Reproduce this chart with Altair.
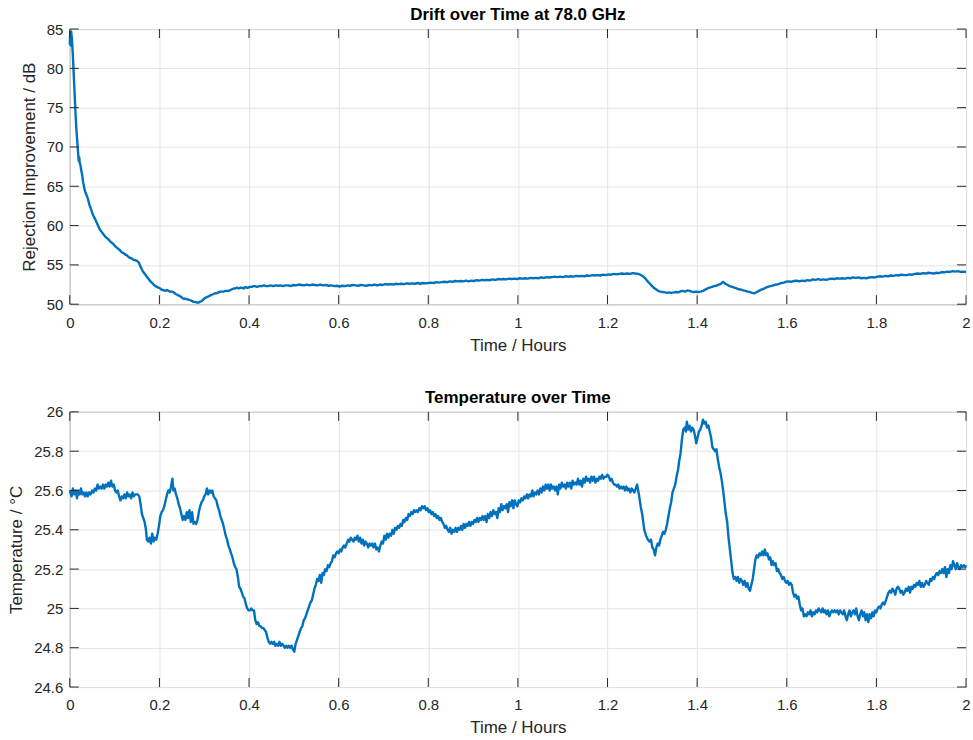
import altair as alt
import pandas as pd

# (hours, rejection improvement dB)
drift_readings = [
    (0.000, 83.0), (0.001, 84.6), (0.002, 82.9), (0.003, 84.7), (0.004, 84.2), (0.005, 83.6),
    (0.007, 81.5), (0.009, 79.0), (0.011, 76.5), (0.013, 74.0), (0.015, 72.0), (0.017, 70.5),
    (0.019, 68.9), (0.020, 68.2), (0.021, 68.7), (0.022, 68.1), (0.024, 67.6), (0.026, 66.9),
    (0.028, 66.3), (0.030, 65.4), (0.031, 65.2), (0.033, 64.6), (0.035, 64.2), (0.038, 63.8),
    (0.041, 63.3), (0.044, 62.6), (0.046, 62.3), (0.048, 62.0), (0.050, 61.6), (0.053, 61.2),
    (0.056, 60.9), (0.060, 60.4), (0.063, 60.0), (0.067, 59.5), (0.071, 59.2), (0.075, 58.9),
    (0.079, 58.6), (0.083, 58.4), (0.087, 58.2), (0.090, 58.0), (0.094, 57.8), (0.098, 57.6),
    (0.101, 57.4), (0.105, 57.2), (0.109, 57.0), (0.113, 56.8), (0.116, 56.6), (0.120, 56.5),
    (0.124, 56.3), (0.128, 56.2), (0.131, 56.0), (0.135, 55.9), (0.139, 55.8), (0.143, 55.6),
    (0.146, 55.6), (0.150, 55.5), (0.154, 55.3), (0.157, 54.9), (0.161, 54.4), (0.164, 54.1),
    (0.168, 53.8), (0.172, 53.5), (0.176, 53.2), (0.180, 52.9), (0.184, 52.7), (0.187, 52.5),
    (0.191, 52.3), (0.195, 52.2), (0.198, 52.1), (0.202, 52.0), (0.206, 51.8), (0.209, 51.8),
    (0.213, 51.7), (0.217, 51.8), (0.220, 51.7), (0.224, 51.6), (0.228, 51.6), (0.232, 51.5),
    (0.236, 51.3), (0.240, 51.2), (0.243, 51.1), (0.247, 51.0), (0.251, 50.8), (0.254, 50.7),
    (0.258, 50.7), (0.262, 50.6), (0.265, 50.6), (0.269, 50.5), (0.273, 50.4), (0.276, 50.3),
    (0.280, 50.3), (0.284, 50.2), (0.287, 50.2), (0.290, 50.3), (0.294, 50.4), (0.298, 50.6),
    (0.302, 50.8), (0.306, 50.9), (0.310, 51.0), (0.313, 51.1), (0.317, 51.2), (0.321, 51.3),
    (0.324, 51.4), (0.328, 51.4), (0.332, 51.5), (0.336, 51.6), (0.339, 51.6), (0.343, 51.6),
    (0.347, 51.7), (0.351, 51.7), (0.354, 51.7), (0.358, 51.8), (0.362, 51.9), (0.366, 52.0),
    (0.369, 52.0), (0.373, 52.1), (0.377, 52.0), (0.381, 52.1), (0.384, 52.1), (0.388, 52.0),
    (0.392, 52.2), (0.395, 52.1), (0.398, 52.1), (0.402, 52.2), (0.406, 52.2), (0.410, 52.3),
    (0.413, 52.3), (0.418, 52.2), (0.423, 52.3), (0.428, 52.3), (0.433, 52.4), (0.438, 52.3),
    (0.443, 52.3), (0.448, 52.4), (0.454, 52.3), (0.460, 52.4), (0.465, 52.35), (0.470, 52.4),
    (0.476, 52.3), (0.481, 52.4), (0.487, 52.4), (0.493, 52.3), (0.499, 52.45), (0.505, 52.4),
    (0.511, 52.5), (0.517, 52.45), (0.523, 52.4), (0.529, 52.5), (0.535, 52.4), (0.541, 52.5),
    (0.547, 52.45), (0.553, 52.4), (0.559, 52.5), (0.565, 52.4), (0.571, 52.45), (0.577, 52.35),
    (0.584, 52.4), (0.590, 52.3), (0.596, 52.35), (0.602, 52.25), (0.608, 52.35), (0.614, 52.3),
    (0.620, 52.4), (0.626, 52.35), (0.632, 52.45), (0.638, 52.4), (0.644, 52.35), (0.650, 52.45),
    (0.656, 52.4), (0.662, 52.35), (0.668, 52.45), (0.674, 52.4), (0.680, 52.5), (0.686, 52.4),
    (0.692, 52.5), (0.698, 52.45), (0.704, 52.55), (0.710, 52.5), (0.716, 52.55), (0.722, 52.5),
    (0.728, 52.6), (0.734, 52.55), (0.740, 52.6), (0.746, 52.55), (0.752, 52.65), (0.758, 52.6),
    (0.764, 52.65), (0.770, 52.6), (0.776, 52.7), (0.782, 52.6), (0.788, 52.7), (0.794, 52.65),
    (0.800, 52.7), (0.806, 52.75), (0.812, 52.7), (0.818, 52.8), (0.824, 52.75), (0.830, 52.8),
    (0.836, 52.85), (0.842, 52.8), (0.848, 52.9), (0.854, 52.85), (0.860, 52.95), (0.866, 52.9),
    (0.872, 52.95), (0.878, 52.9), (0.884, 53.0), (0.890, 52.9), (0.896, 53.0), (0.902, 52.95),
    (0.908, 53.05), (0.914, 53.0), (0.920, 53.1), (0.926, 53.05), (0.932, 53.1), (0.938, 53.05),
    (0.944, 53.15), (0.950, 53.1), (0.956, 53.2), (0.962, 53.15), (0.968, 53.2), (0.974, 53.15),
    (0.980, 53.25), (0.986, 53.2), (0.992, 53.25), (0.998, 53.2), (1.004, 53.3), (1.010, 53.25),
    (1.016, 53.3), (1.022, 53.25), (1.028, 53.35), (1.034, 53.3), (1.040, 53.35), (1.046, 53.3),
    (1.052, 53.4), (1.058, 53.35), (1.064, 53.45), (1.070, 53.4), (1.076, 53.45), (1.082, 53.5),
    (1.088, 53.45), (1.094, 53.5), (1.100, 53.45), (1.106, 53.55), (1.112, 53.5), (1.118, 53.55),
    (1.124, 53.5), (1.130, 53.6), (1.136, 53.55), (1.142, 53.6), (1.148, 53.55), (1.154, 53.65),
    (1.160, 53.6), (1.166, 53.7), (1.172, 53.65), (1.178, 53.7), (1.184, 53.65), (1.190, 53.75),
    (1.196, 53.7), (1.202, 53.8), (1.208, 53.75), (1.214, 53.85), (1.220, 53.8), (1.226, 53.85),
    (1.232, 53.9), (1.238, 53.85), (1.244, 53.9), (1.250, 53.85), (1.256, 53.95), (1.262, 53.9),
    (1.268, 53.85), (1.273, 53.75), (1.278, 53.6), (1.283, 53.35), (1.288, 53.0), (1.293, 52.7),
    (1.298, 52.4), (1.303, 52.1), (1.308, 51.9), (1.313, 51.7), (1.318, 51.6), (1.323, 51.55),
    (1.328, 51.5), (1.333, 51.45), (1.338, 51.5), (1.343, 51.45), (1.348, 51.5), (1.353, 51.55),
    (1.358, 51.5), (1.363, 51.65), (1.368, 51.7), (1.373, 51.6), (1.378, 51.75), (1.383, 51.7),
    (1.388, 51.6), (1.393, 51.55), (1.398, 51.6), (1.403, 51.55), (1.408, 51.6), (1.413, 51.7),
    (1.418, 51.85), (1.423, 52.0), (1.428, 52.1), (1.433, 52.2), (1.438, 52.3), (1.443, 52.35),
    (1.448, 52.5), (1.453, 52.6), (1.458, 52.85), (1.463, 52.6), (1.468, 52.45), (1.473, 52.3),
    (1.478, 52.2), (1.483, 52.1), (1.488, 52.0), (1.493, 51.9), (1.498, 51.85), (1.503, 51.75),
    (1.508, 51.7), (1.513, 51.6), (1.518, 51.55), (1.523, 51.45), (1.528, 51.4), (1.533, 51.55),
    (1.538, 51.7), (1.543, 51.85), (1.548, 51.95), (1.553, 52.1), (1.558, 52.2), (1.563, 52.3),
    (1.568, 52.35), (1.573, 52.45), (1.578, 52.5), (1.583, 52.6), (1.588, 52.7), (1.593, 52.75),
    (1.598, 52.85), (1.604, 52.9), (1.610, 52.85), (1.616, 52.95), (1.622, 53.0), (1.628, 52.9),
    (1.634, 53.0), (1.640, 52.95), (1.646, 53.05), (1.652, 53.0), (1.658, 53.15), (1.664, 53.1),
    (1.670, 53.2), (1.676, 53.1), (1.682, 53.15), (1.688, 53.1), (1.694, 53.2), (1.700, 53.25),
    (1.706, 53.2), (1.712, 53.3), (1.718, 53.25), (1.724, 53.3), (1.730, 53.25), (1.736, 53.35),
    (1.742, 53.3), (1.748, 53.4), (1.754, 53.35), (1.760, 53.4), (1.766, 53.3), (1.772, 53.35),
    (1.778, 53.3), (1.784, 53.4), (1.790, 53.45), (1.796, 53.4), (1.802, 53.5), (1.808, 53.55),
    (1.814, 53.5), (1.820, 53.6), (1.826, 53.55), (1.832, 53.65), (1.838, 53.6), (1.844, 53.7),
    (1.850, 53.65), (1.856, 53.75), (1.862, 53.7), (1.868, 53.7), (1.874, 53.8), (1.880, 53.75),
    (1.886, 53.85), (1.892, 53.9), (1.898, 53.85), (1.904, 53.95), (1.910, 53.9), (1.916, 54.0),
    (1.922, 53.95), (1.928, 53.9), (1.934, 54.0), (1.940, 53.95), (1.946, 54.1), (1.952, 54.05),
    (1.958, 54.15), (1.964, 54.1), (1.970, 54.2), (1.976, 54.15), (1.982, 54.2), (1.988, 54.1),
    (1.994, 54.15), (2.000, 54.1),
]

# (hours, temperature degC)
temp_readings = [
    (0.000, 25.60), (0.004, 25.57), (0.007, 25.61), (0.010, 25.58), (0.013, 25.60), (0.016, 25.56),
    (0.019, 25.60), (0.022, 25.58), (0.025, 25.61), (0.028, 25.58), (0.031, 25.59), (0.034, 25.57),
    (0.037, 25.59), (0.040, 25.57), (0.043, 25.59), (0.046, 25.58), (0.050, 25.60), (0.053, 25.59),
    (0.056, 25.61), (0.059, 25.60), (0.062, 25.63), (0.065, 25.61), (0.068, 25.62), (0.071, 25.61),
    (0.074, 25.63), (0.077, 25.61), (0.080, 25.63), (0.083, 25.62), (0.086, 25.64), (0.089, 25.62),
    (0.092, 25.65), (0.095, 25.62), (0.098, 25.63), (0.101, 25.60), (0.104, 25.59), (0.107, 25.60),
    (0.110, 25.57), (0.113, 25.55), (0.116, 25.57), (0.119, 25.56), (0.122, 25.58), (0.125, 25.56),
    (0.128, 25.59), (0.131, 25.57), (0.134, 25.58), (0.137, 25.56), (0.140, 25.59), (0.143, 25.57),
    (0.146, 25.58), (0.149, 25.58), (0.152, 25.58), (0.155, 25.57), (0.158, 25.53), (0.161, 25.48),
    (0.164, 25.46), (0.167, 25.44), (0.170, 25.40), (0.172, 25.35), (0.175, 25.34), (0.178, 25.36),
    (0.181, 25.33), (0.184, 25.38), (0.187, 25.34), (0.190, 25.36), (0.193, 25.35), (0.196, 25.38),
    (0.199, 25.42), (0.202, 25.47), (0.205, 25.49), (0.208, 25.50), (0.211, 25.52), (0.214, 25.55),
    (0.217, 25.58), (0.220, 25.60), (0.223, 25.59), (0.226, 25.62), (0.229, 25.66), (0.231, 25.60),
    (0.234, 25.61), (0.237, 25.58), (0.240, 25.56), (0.243, 25.53), (0.246, 25.51), (0.249, 25.48),
    (0.252, 25.45), (0.255, 25.47), (0.258, 25.45), (0.261, 25.49), (0.264, 25.46), (0.267, 25.50),
    (0.270, 25.44), (0.273, 25.49), (0.276, 25.43), (0.279, 25.44), (0.282, 25.43), (0.285, 25.45),
    (0.288, 25.49), (0.291, 25.52), (0.294, 25.54), (0.297, 25.55), (0.300, 25.57), (0.303, 25.58),
    (0.306, 25.61), (0.309, 25.58), (0.312, 25.60), (0.315, 25.59), (0.318, 25.60), (0.321, 25.57),
    (0.324, 25.56), (0.327, 25.55), (0.330, 25.52), (0.333, 25.50), (0.336, 25.47), (0.339, 25.45),
    (0.342, 25.43), (0.345, 25.40), (0.348, 25.37), (0.351, 25.35), (0.354, 25.32), (0.357, 25.30),
    (0.360, 25.28), (0.363, 25.26), (0.366, 25.23), (0.369, 25.21), (0.372, 25.20), (0.375, 25.16),
    (0.378, 25.11), (0.381, 25.10), (0.384, 25.08), (0.387, 25.06), (0.390, 25.05), (0.393, 25.02),
    (0.396, 25.00), (0.399, 24.99), (0.402, 24.99), (0.405, 25.00), (0.408, 24.99), (0.411, 24.99),
    (0.414, 24.94), (0.417, 24.92), (0.420, 24.93), (0.423, 24.91), (0.426, 24.91), (0.429, 24.90),
    (0.432, 24.90), (0.435, 24.89), (0.438, 24.88), (0.441, 24.85), (0.444, 24.83), (0.447, 24.82),
    (0.450, 24.83), (0.453, 24.82), (0.456, 24.83), (0.459, 24.81), (0.462, 24.82), (0.465, 24.81),
    (0.468, 24.83), (0.471, 24.81), (0.474, 24.82), (0.477, 24.81), (0.480, 24.80), (0.483, 24.81),
    (0.486, 24.80), (0.489, 24.81), (0.492, 24.80), (0.495, 24.81), (0.498, 24.79), (0.501, 24.78),
    (0.504, 24.82), (0.507, 24.84), (0.510, 24.86), (0.513, 24.88), (0.516, 24.90), (0.519, 24.91),
    (0.522, 24.94), (0.525, 24.95), (0.528, 24.97), (0.531, 24.99), (0.534, 25.01), (0.537, 25.03),
    (0.540, 25.04), (0.543, 25.07), (0.546, 25.10), (0.549, 25.12), (0.552, 25.15), (0.555, 25.14),
    (0.558, 25.17), (0.561, 25.13), (0.564, 25.18), (0.567, 25.17), (0.570, 25.20), (0.573, 25.19),
    (0.576, 25.22), (0.579, 25.21), (0.582, 25.23), (0.585, 25.24), (0.588, 25.27), (0.591, 25.26),
    (0.594, 25.28), (0.597, 25.29), (0.600, 25.28), (0.603, 25.30), (0.606, 25.29), (0.609, 25.31),
    (0.612, 25.32), (0.615, 25.31), (0.618, 25.33), (0.621, 25.35), (0.624, 25.34), (0.627, 25.36),
    (0.630, 25.35), (0.633, 25.34), (0.636, 25.36), (0.639, 25.35), (0.642, 25.37), (0.645, 25.34),
    (0.648, 25.36), (0.651, 25.33), (0.654, 25.35), (0.657, 25.32), (0.660, 25.34), (0.663, 25.33),
    (0.666, 25.31), (0.669, 25.33), (0.672, 25.32), (0.675, 25.33), (0.678, 25.31), (0.681, 25.33),
    (0.684, 25.30), (0.687, 25.31), (0.690, 25.29), (0.693, 25.32), (0.696, 25.34), (0.699, 25.33),
    (0.702, 25.37), (0.705, 25.35), (0.708, 25.38), (0.711, 25.36), (0.714, 25.38), (0.717, 25.37),
    (0.720, 25.40), (0.723, 25.38), (0.726, 25.41), (0.729, 25.40), (0.732, 25.42), (0.735, 25.41),
    (0.738, 25.43), (0.741, 25.42), (0.744, 25.45), (0.747, 25.44), (0.750, 25.46), (0.753, 25.45),
    (0.756, 25.48), (0.759, 25.47), (0.762, 25.49), (0.765, 25.48), (0.768, 25.50), (0.771, 25.49),
    (0.774, 25.50), (0.777, 25.49), (0.780, 25.51), (0.783, 25.50), (0.786, 25.52), (0.789, 25.51),
    (0.792, 25.52), (0.795, 25.50), (0.798, 25.51), (0.801, 25.49), (0.804, 25.50), (0.807, 25.48),
    (0.810, 25.49), (0.813, 25.47), (0.816, 25.48), (0.819, 25.46), (0.822, 25.47), (0.825, 25.45),
    (0.828, 25.46), (0.831, 25.44), (0.834, 25.43), (0.837, 25.41), (0.840, 25.42), (0.843, 25.40),
    (0.846, 25.39), (0.849, 25.41), (0.852, 25.38), (0.855, 25.40), (0.858, 25.39), (0.861, 25.41),
    (0.864, 25.39), (0.867, 25.41), (0.870, 25.40), (0.873, 25.42), (0.876, 25.40), (0.879, 25.43),
    (0.882, 25.41), (0.885, 25.43), (0.888, 25.42), (0.891, 25.44), (0.894, 25.42), (0.897, 25.44),
    (0.900, 25.43), (0.903, 25.45), (0.906, 25.44), (0.909, 25.46), (0.912, 25.44), (0.915, 25.46),
    (0.918, 25.45), (0.921, 25.47), (0.924, 25.45), (0.927, 25.47), (0.930, 25.44), (0.933, 25.48),
    (0.936, 25.46), (0.939, 25.49), (0.942, 25.47), (0.945, 25.50), (0.948, 25.48), (0.951, 25.49),
    (0.954, 25.46), (0.957, 25.51), (0.960, 25.49), (0.963, 25.53), (0.966, 25.50), (0.969, 25.52),
    (0.972, 25.51), (0.975, 25.53), (0.978, 25.49), (0.981, 25.54), (0.984, 25.52), (0.987, 25.55),
    (0.990, 25.51), (0.993, 25.55), (0.996, 25.53), (0.999, 25.52), (1.002, 25.55), (1.005, 25.54),
    (1.008, 25.56), (1.011, 25.55), (1.014, 25.57), (1.017, 25.56), (1.020, 25.58), (1.023, 25.56),
    (1.026, 25.58), (1.029, 25.57), (1.032, 25.60), (1.035, 25.57), (1.038, 25.59), (1.041, 25.58),
    (1.044, 25.60), (1.047, 25.58), (1.050, 25.61), (1.053, 25.59), (1.056, 25.62), (1.059, 25.60),
    (1.062, 25.63), (1.065, 25.61), (1.068, 25.63), (1.071, 25.60), (1.074, 25.63), (1.077, 25.61),
    (1.080, 25.62), (1.083, 25.60), (1.086, 25.62), (1.089, 25.58), (1.092, 25.63), (1.095, 25.61),
    (1.098, 25.64), (1.101, 25.62), (1.104, 25.63), (1.107, 25.61), (1.110, 25.64), (1.113, 25.62),
    (1.116, 25.64), (1.119, 25.61), (1.122, 25.65), (1.125, 25.63), (1.128, 25.64), (1.131, 25.63),
    (1.134, 25.66), (1.137, 25.63), (1.140, 25.65), (1.143, 25.62), (1.146, 25.66), (1.149, 25.64),
    (1.152, 25.67), (1.155, 25.65), (1.158, 25.66), (1.161, 25.64), (1.164, 25.67), (1.167, 25.65),
    (1.170, 25.67), (1.173, 25.64), (1.176, 25.66), (1.179, 25.65), (1.182, 25.67), (1.185, 25.66),
    (1.188, 25.68), (1.191, 25.66), (1.194, 25.67), (1.197, 25.67), (1.200, 25.68), (1.203, 25.67),
    (1.206, 25.65), (1.209, 25.66), (1.212, 25.64), (1.215, 25.63), (1.218, 25.63), (1.221, 25.62),
    (1.224, 25.63), (1.227, 25.61), (1.230, 25.62), (1.233, 25.61), (1.236, 25.62), (1.239, 25.60),
    (1.242, 25.62), (1.245, 25.60), (1.248, 25.61), (1.251, 25.59), (1.254, 25.61), (1.257, 25.60),
    (1.260, 25.59), (1.263, 25.61), (1.266, 25.63), (1.270, 25.58), (1.274, 25.52), (1.278, 25.47),
    (1.282, 25.40), (1.286, 25.37), (1.290, 25.35), (1.294, 25.34), (1.297, 25.35), (1.300, 25.31),
    (1.303, 25.30), (1.306, 25.27), (1.309, 25.31), (1.312, 25.33), (1.315, 25.32), (1.318, 25.35),
    (1.321, 25.37), (1.324, 25.39), (1.327, 25.38), (1.330, 25.40), (1.333, 25.43), (1.336, 25.47),
    (1.339, 25.51), (1.342, 25.54), (1.345, 25.59), (1.348, 25.61), (1.351, 25.63), (1.354, 25.67),
    (1.357, 25.70), (1.360, 25.75), (1.363, 25.79), (1.366, 25.86), (1.369, 25.91), (1.372, 25.92),
    (1.375, 25.90), (1.377, 25.95), (1.380, 25.91), (1.383, 25.93), (1.386, 25.90), (1.389, 25.92),
    (1.392, 25.91), (1.395, 25.88), (1.398, 25.84), (1.401, 25.87), (1.404, 25.90), (1.407, 25.91),
    (1.410, 25.93), (1.413, 25.96), (1.416, 25.94), (1.419, 25.95), (1.422, 25.92), (1.425, 25.93),
    (1.428, 25.90), (1.431, 25.87), (1.434, 25.82), (1.437, 25.81), (1.440, 25.80), (1.443, 25.81),
    (1.446, 25.76), (1.449, 25.72), (1.452, 25.69), (1.455, 25.65), (1.458, 25.60), (1.461, 25.54),
    (1.464, 25.48), (1.467, 25.44), (1.470, 25.36), (1.473, 25.30), (1.476, 25.24), (1.479, 25.18),
    (1.482, 25.15), (1.485, 25.16), (1.488, 25.14), (1.491, 25.16), (1.494, 25.13), (1.497, 25.15),
    (1.500, 25.14), (1.503, 25.12), (1.506, 25.14), (1.509, 25.11), (1.512, 25.13), (1.515, 25.10),
    (1.518, 25.09), (1.521, 25.12), (1.524, 25.15), (1.527, 25.20), (1.530, 25.25), (1.533, 25.27),
    (1.536, 25.26), (1.539, 25.28), (1.542, 25.27), (1.545, 25.29), (1.548, 25.27), (1.551, 25.30),
    (1.554, 25.27), (1.557, 25.28), (1.560, 25.25), (1.563, 25.26), (1.566, 25.22), (1.569, 25.24),
    (1.572, 25.22), (1.575, 25.23), (1.578, 25.19), (1.581, 25.20), (1.584, 25.18), (1.587, 25.17),
    (1.590, 25.15), (1.593, 25.16), (1.596, 25.14), (1.599, 25.13), (1.602, 25.14), (1.605, 25.12),
    (1.608, 25.13), (1.611, 25.12), (1.614, 25.08), (1.617, 25.06), (1.620, 25.07), (1.623, 25.05),
    (1.626, 25.06), (1.629, 25.02), (1.632, 24.99), (1.635, 25.00), (1.638, 24.96), (1.641, 24.97),
    (1.644, 24.96), (1.647, 24.98), (1.650, 24.97), (1.653, 24.99), (1.656, 24.96), (1.659, 24.98),
    (1.662, 24.97), (1.665, 24.99), (1.668, 24.98), (1.671, 25.00), (1.674, 24.99), (1.677, 24.98),
    (1.680, 25.00), (1.683, 24.98), (1.686, 24.99), (1.689, 24.97), (1.692, 24.99), (1.695, 24.96),
    (1.698, 24.98), (1.701, 24.99), (1.704, 24.98), (1.707, 24.99), (1.710, 24.98), (1.713, 24.99),
    (1.716, 24.97), (1.719, 24.99), (1.722, 24.98), (1.725, 24.97), (1.728, 24.99), (1.731, 24.96),
    (1.734, 24.94), (1.737, 24.97), (1.740, 24.99), (1.743, 24.96), (1.746, 24.98), (1.749, 24.99),
    (1.752, 24.97), (1.755, 25.00), (1.758, 24.96), (1.761, 24.94), (1.764, 24.97), (1.767, 24.99),
    (1.770, 24.96), (1.773, 24.98), (1.776, 24.94), (1.779, 24.97), (1.782, 24.93), (1.785, 24.97),
    (1.788, 24.95), (1.791, 24.98), (1.794, 24.96), (1.797, 24.99), (1.800, 24.98), (1.803, 25.00),
    (1.806, 25.01), (1.809, 25.00), (1.812, 25.02), (1.815, 25.03), (1.818, 25.02), (1.821, 25.04),
    (1.824, 25.06), (1.827, 25.08), (1.830, 25.09), (1.833, 25.08), (1.836, 25.10), (1.839, 25.09),
    (1.842, 25.07), (1.845, 25.10), (1.848, 25.11), (1.851, 25.10), (1.854, 25.08), (1.857, 25.09),
    (1.860, 25.07), (1.863, 25.08), (1.866, 25.10), (1.869, 25.09), (1.872, 25.11), (1.875, 25.08),
    (1.878, 25.11), (1.881, 25.10), (1.884, 25.12), (1.887, 25.11), (1.890, 25.13), (1.893, 25.12),
    (1.896, 25.14), (1.899, 25.11), (1.902, 25.13), (1.905, 25.11), (1.908, 25.12), (1.911, 25.14),
    (1.914, 25.13), (1.917, 25.12), (1.920, 25.15), (1.923, 25.14), (1.926, 25.16), (1.929, 25.15),
    (1.932, 25.17), (1.935, 25.18), (1.938, 25.17), (1.941, 25.19), (1.944, 25.18), (1.947, 25.20),
    (1.950, 25.18), (1.953, 25.21), (1.956, 25.16), (1.959, 25.20), (1.962, 25.18), (1.965, 25.22),
    (1.968, 25.20), (1.971, 25.24), (1.974, 25.22), (1.977, 25.20), (1.980, 25.23), (1.983, 25.21),
    (1.986, 25.20), (1.989, 25.22), (1.992, 25.21), (1.995, 25.22), (1.998, 25.21), (2.000, 25.22),
]

hour_ticks = [0, 0.2, 0.4, 0.6, 0.8, 1, 1.2, 1.4, 1.6, 1.8, 2]
drift_ticks = [50, 55, 60, 65, 70, 75, 80, 85]
temp_ticks = [24.6, 24.8, 25, 25.2, 25.4, 25.6, 25.8, 26]

W, H = 899, 276
FONT = "Liberation Sans"
LINE_COLOR = "#0072BD"
AXIS_COLOR = "#262626"
GRID_COLOR = "#e3e3e3"
TICK_LEN = 9


def panel(readings, col, ylabel, ydomain, yticks, title):
    df = pd.DataFrame(readings, columns=["hours", col])
    xs = alt.Scale(domain=[0, 2], nice=False, zero=False)
    ys = alt.Scale(domain=ydomain, nice=False, zero=False)
    common = dict(
        grid=True, gridColor=GRID_COLOR, gridWidth=1, domain=False, ticks=False, tickSize=0,
        labelFont=FONT, labelFontSize=15, labelColor=AXIS_COLOR, labelFlush=False,
        labelOverlap=False, titleFont=FONT, titleFontSize=17, titleFontWeight="normal",
        titleColor=AXIS_COLOR, format="~g",
    )
    x_axis = alt.Axis(values=hour_ticks, title="Time / Hours", labelPadding=11,
                      titlePadding=7, **common)
    y_axis = alt.Axis(values=yticks, title=ylabel, labelPadding=7, titlePadding=8, **common)
    xenc = alt.X("hours:Q", scale=xs, axis=x_axis)
    yenc = alt.Y(f"{col}:Q", scale=ys, axis=y_axis)

    line = alt.Chart(df).mark_line(color=LINE_COLOR, strokeWidth=2.4, strokeJoin="round").encode(
        x=xenc, y=yenc)
    xt = pd.DataFrame({"hours": hour_ticks})
    yt = pd.DataFrame({col: yticks})
    rule = dict(color=AXIS_COLOR, strokeWidth=1)
    bottom_ticks = alt.Chart(xt).mark_rule(**rule).encode(
        x=xenc, y=alt.value(H), y2=alt.value(H - TICK_LEN))
    top_ticks = alt.Chart(xt).mark_rule(**rule).encode(
        x=xenc, y=alt.value(0), y2=alt.value(TICK_LEN))
    left_ticks = alt.Chart(yt).mark_rule(**rule).encode(
        y=yenc, x=alt.value(0), x2=alt.value(TICK_LEN))
    right_ticks = alt.Chart(yt).mark_rule(**rule).encode(
        y=yenc, x=alt.value(W), x2=alt.value(W - TICK_LEN))
    return alt.layer(line, bottom_ticks, top_ticks, left_ticks, right_ticks).properties(
        width=W, height=H,
        title=alt.TitleParams(title, font=FONT, fontSize=17, fontWeight="bold", color="#000000",
                              anchor="middle", offset=-2),
    )


top = panel(drift_readings, "rejection", "Rejection Improvement / dB", [50, 85], drift_ticks,
            "Drift over Time at 78.0 GHz")
bottom = panel(temp_readings, "temperature", "Temperature / °C", [24.6, 26], temp_ticks,
               "Temperature over Time")

chart = alt.vconcat(top, bottom, spacing=34).properties(
    padding={"left": 7, "top": 4, "right": 2, "bottom": 2},
    background="white",
).configure_view(stroke="#5f5f5f", strokeWidth=1)

chart.save("out.html", embed_options={"renderer": "svg", "actions": False})
